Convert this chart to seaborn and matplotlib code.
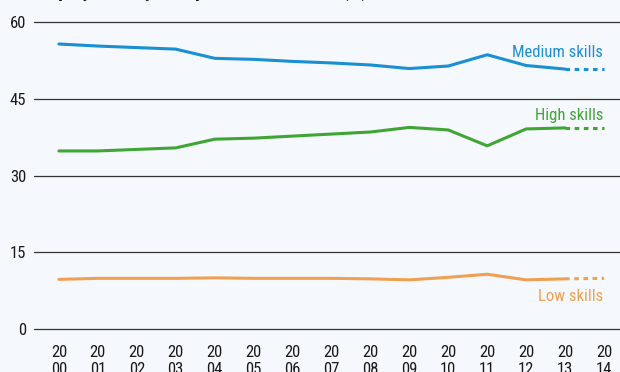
import matplotlib
matplotlib.use("Agg")
import matplotlib.pyplot as plt
import seaborn as sns
import pandas as pd

# Share of employment by occupational skill level, 2000-2013, with 2014 held flat
years = list(range(2000, 2015))
medium_skills = [55.7, 55.3, 55.0, 54.7, 52.9, 52.7, 52.3, 52.0, 51.6, 50.9, 51.4, 53.6, 51.5, 50.8, 50.8]
high_skills = [34.8, 34.8, 35.1, 35.4, 37.1, 37.3, 37.7, 38.1, 38.5, 39.4, 38.9, 35.8, 39.1, 39.3, 39.3]
low_skills = [9.7, 9.9, 9.9, 9.9, 10.0, 9.9, 9.9, 9.9, 9.8, 9.6, 10.1, 10.7, 9.6, 9.8, 9.9]
series_names = ["Medium skills", "High skills", "Low skills"]
y_ticks = [0, 15, 30, 45, 60]
x_labels = [f"20\n{y % 100:02d}" for y in years]
title = "Employment by occupational skill level (%)"

colors = {"Medium skills": "#1a8fd2", "High skills": "#3fa535", "Low skills": "#f0a052"}
bg = "#f5f8fc"

rows = []
for name, vals in zip(series_names, [medium_skills, high_skills, low_skills]):
    for yr, v in zip(years, vals):
        rows.append({"year": yr, "share": v, "series": name})
df = pd.DataFrame(rows)
last_actual = 2013

sns.set_style("white")
plt.rcParams["font.family"] = ["Roboto Condensed", "DejaVu Sans"]

fig = plt.figure(figsize=(6.2, 3.72), dpi=100, facecolor=bg)
ax = fig.add_axes([34 / 620, 43 / 372, 586 / 620, 307 / 372])
ax.set_facecolor(bg)

solid = df[df["year"] <= last_actual]
proj = df[df["year"] >= last_actual]
sns.lineplot(data=solid, x="year", y="share", hue="series", palette=colors,
             linewidth=2.2, legend=False, ax=ax)
sns.lineplot(data=proj, x="year", y="share", hue="series", palette=colors,
             linewidth=2.2, legend=False, ax=ax)
for line in ax.lines[len(series_names):]:
    line.set_dashes((1.5, 1.5))

ax.set_xlim(1999.36, 2014.41)
ax.set_ylim(0, 60)
ax.set_yticks(y_ticks)
ax.set_yticklabels([str(t) for t in y_ticks], fontsize=12, color="#1a1a1a")
ax.set_xticks(years)
ax.set_xticklabels(x_labels, fontsize=12, color="#1a1a1a", linespacing=1.15)
ax.tick_params(axis="y", length=0, pad=5.5)
ax.tick_params(axis="x", length=0, pad=11.5)
ax.set_xlabel("")
ax.set_ylabel("")
for s in ax.spines.values():
    s.set_visible(False)
ax.yaxis.grid(True, color="#333333", linewidth=0.9)
for gl in ax.get_ygridlines():
    gl.set_clip_on(False)
ax.set_axisbelow(True)

# series labels at the right end
label_pos = {"Medium skills": 53.1, "High skills": 40.9, "Low skills": 5.5}
for name in series_names:
    ax.text(2013.98, label_pos[name], name, color=colors[name], fontsize=12,
            ha="right", va="baseline")

fig.text(34 / 620, 1 + 3 / 372, title, fontsize=14, fontweight="bold",
         color="#1a1a1a", ha="left", va="baseline")

fig.savefig("out.png", dpi=100, facecolor=bg)
